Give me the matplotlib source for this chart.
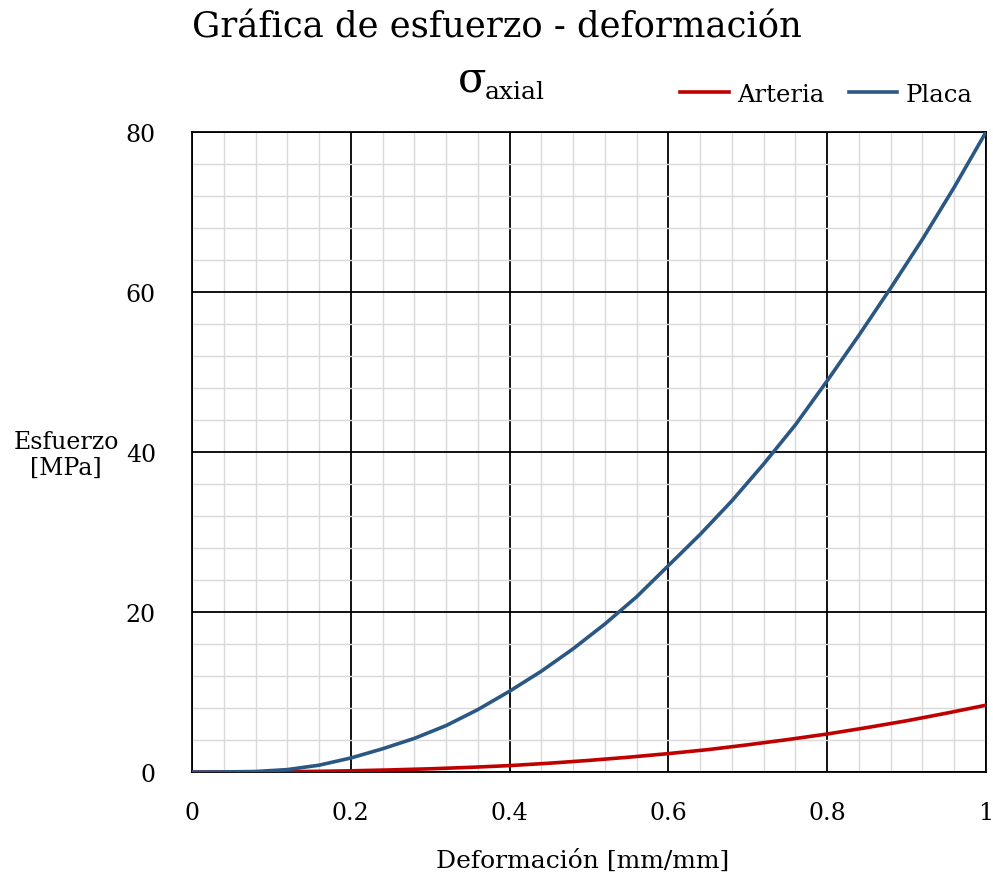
import matplotlib
matplotlib.use("Agg")
import matplotlib.pyplot as plt
from matplotlib.ticker import MultipleLocator

plt.rcParams['font.family'] = ['DejaVu Serif']
plt.rcParams['mathtext.fontset'] = 'dejavuserif'

# Data
strain_placa = [0.00, 0.04, 0.08, 0.12, 0.16, 0.20, 0.24, 0.28, 0.32, 0.36, 0.40,
                0.44, 0.48, 0.52, 0.56, 0.60, 0.64, 0.68, 0.72, 0.76, 0.80,
                0.84, 0.88, 0.92, 0.96, 1.00]
stress_placa = [0.0, 0.01, 0.06, 0.30, 0.85, 1.75, 2.9, 4.2, 5.8, 7.8, 10.1,
                12.6, 15.4, 18.5, 21.9, 25.8, 29.7, 33.9, 38.5, 43.4, 48.9,
                54.6, 60.5, 66.6, 73.1, 80.0]

strain_arteria = [0.00, 0.05, 0.10, 0.15, 0.20, 0.25, 0.30, 0.35, 0.40, 0.45, 0.50,
                  0.55, 0.60, 0.65, 0.70, 0.75, 0.80, 0.85, 0.90, 0.95, 1.00]
stress_arteria = [0.0, 0.0, 0.02, 0.07, 0.15, 0.26, 0.40, 0.58, 0.80, 1.10, 1.45,
                  1.85, 2.30, 2.80, 3.40, 4.05, 4.75, 5.55, 6.40, 7.35, 8.35]

x_ticks = [0, 0.2, 0.4, 0.6, 0.8, 1]
x_ticklabels = ["0", "0.2", "0.4", "0.6", "0.8", "1"]
y_ticks = [0, 20, 40, 60, 80]
y_ticklabels = ["0", "20", "40", "60", "80"]

W, H = 993, 879
fig = plt.figure(figsize=(W / 100, H / 100), dpi=100)
ax = fig.add_axes([192 / W, (H - 773) / H, (986 - 192) / W, (773 - 133) / H])

ax.set_xlim(0, 1)
ax.set_ylim(0, 80)
ax.set_xticks(x_ticks)
ax.set_xticklabels(x_ticklabels)
ax.set_yticks(y_ticks)
ax.set_yticklabels(y_ticklabels)
ax.xaxis.set_minor_locator(MultipleLocator(0.04))
ax.yaxis.set_minor_locator(MultipleLocator(4))
ax.grid(which='minor', color='#D9D9D9', linewidth=1.0, zorder=0)
ax.grid(which='major', color='black', linewidth=1.3, zorder=1)
ax.set_axisbelow(True)
ax.tick_params(which='both', length=0)
ax.tick_params(axis='x', labelsize=17, pad=21)
ax.tick_params(axis='y', labelsize=17, pad=26)
for s in ax.spines.values():
    s.set_color('black')
    s.set_linewidth(1.3)

l1, = ax.plot(strain_arteria, stress_arteria, color='#C00000', linewidth=2.6,
              label='Arteria', zorder=3, solid_joinstyle='round')
l2, = ax.plot(strain_placa, stress_placa, color='#2A5783', linewidth=2.6,
              label='Placa', zorder=4, solid_joinstyle='round')

fig.text(0.5, 1 - 28 / H, 'Gráfica de esfuerzo - deformación', ha='center',
         va='center', fontsize=25.5)
fig.text(458 / W, 1 - 91 / H, 'σ', ha='left', va='baseline', fontsize=30)
fig.text(485 / W, 1 - 99 / H, 'axial', ha='left', va='baseline', fontsize=18)

fig.text(66 / W, 1 - 455 / H, 'Esfuerzo\n[MPa]', ha='center', va='center',
         fontsize=17, linespacing=1.15)
fig.text(583 / W, 1 - 861 / H, 'Deformación [mm/mm]', ha='center', va='center',
         fontsize=18)

fig.legend(handles=[l1, l2], loc='center',
           bbox_to_anchor=((678 + 975) / 2 / W, 1 - 95 / H),
           ncol=2, frameon=False, fontsize=17.5, handlelength=2.0,
           handletextpad=0.35, columnspacing=1.0, borderpad=0, borderaxespad=0)

fig.savefig('out.png', dpi=100)
